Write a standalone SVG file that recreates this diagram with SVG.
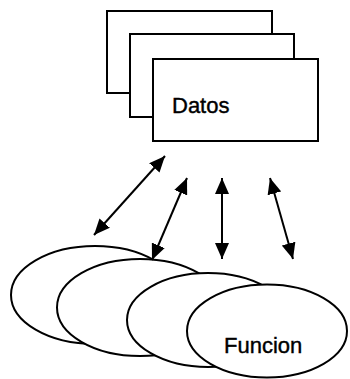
<svg xmlns="http://www.w3.org/2000/svg" width="350" height="379" viewBox="0 0 350 379">
  <style>
    .card { fill: #ffffff; stroke: #000000; stroke-width: 2; }
    .blob { fill: #ffffff; stroke: #000000; stroke-width: 2; }
    .label { font-family: "Liberation Sans", Arial, sans-serif; font-size: 22px; fill: #000000; stroke: #000000; stroke-width: 0.4; }
    .link { stroke: #000000; stroke-width: 2; fill: none; marker-start: url(#head); marker-end: url(#head); }
  </style>
  <defs>
    <marker id="head" viewBox="0 0 16 14" refX="16" refY="7" markerWidth="16" markerHeight="14" markerUnits="userSpaceOnUse" orient="auto-start-reverse">
      <path d="M0,0 L16,7 L0,14 z" fill="#000000"/>
    </marker>
  </defs>
  <rect width="350" height="379" fill="#ffffff"/>

  <!-- stacked data cards -->
  <g id="datos">
    <rect class="card" x="107" y="11" width="165" height="82"/>
    <rect class="card" x="130" y="34" width="164" height="83"/>
    <rect class="card" x="153" y="59" width="165" height="82"/>
    <text class="label" x="172" y="113">Datos</text>
  </g>

  <!-- stacked function ellipses -->
  <g id="funcion">
    <ellipse class="blob" cx="95" cy="295" rx="84" ry="49"/>
    <ellipse class="blob" cx="140" cy="307.5" rx="83" ry="48.5"/>
    <ellipse class="blob" cx="208" cy="320" rx="81" ry="47"/>
    <ellipse class="blob" cx="267" cy="331" rx="80" ry="46.5"/>
    <text class="label" x="224" y="353">Funcion</text>
  </g>

  <!-- two-way links between cards and functions -->
  <g id="connectors">
    <line class="link" x1="165" y1="156" x2="94" y2="235"/>
    <line class="link" x1="187" y1="178" x2="152" y2="260"/>
    <line class="link" x1="222" y1="178" x2="222" y2="259"/>
    <line class="link" x1="270" y1="178" x2="293" y2="259"/>
  </g>
</svg>
